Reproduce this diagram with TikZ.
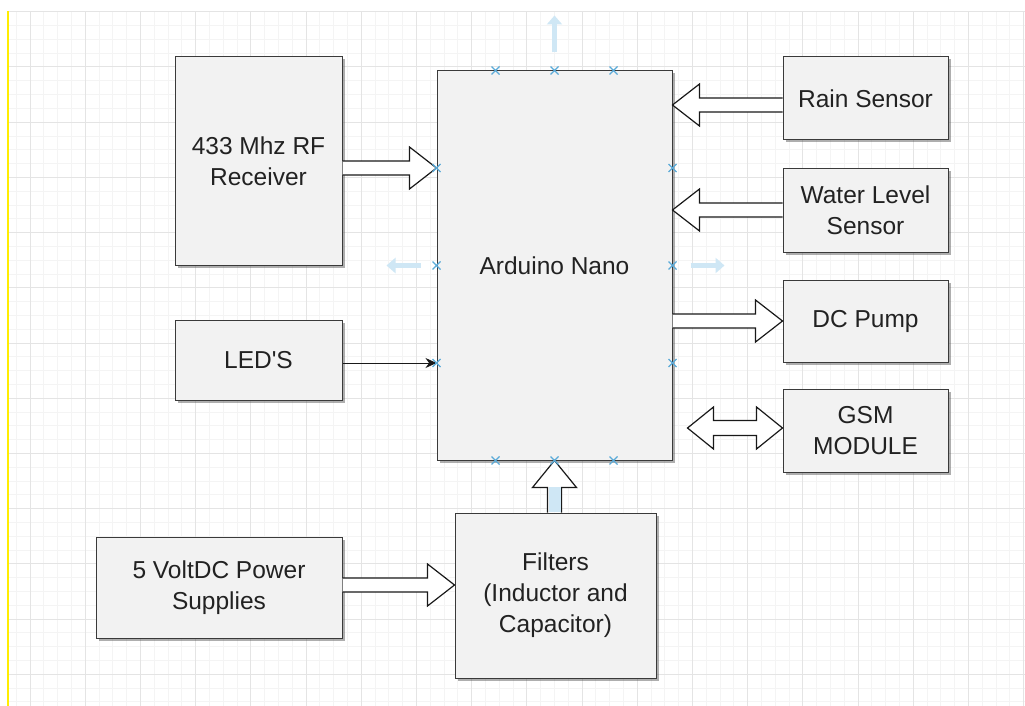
\documentclass[tikz,border=0pt]{standalone}
\usepackage{fontspec}
\setmainfont{Liberation Sans}
\usetikzlibrary{calc,arrows.meta,shadows}
\definecolor{boxfill}{HTML}{F2F2F2}
\definecolor{boxline}{HTML}{3A3A3A}
\definecolor{gridminor}{HTML}{F4F4F4}
\definecolor{gridmajor}{HTML}{E4E4E4}
\definecolor{mark}{HTML}{5AAAD8}
\definecolor{hover}{HTML}{CFE7F5}
\definecolor{txt}{HTML}{222222}
\tikzset{
  blk/.style={draw=boxline, fill=boxfill, line width=1pt, text=txt, align=center,
    inner sep=0pt, font=\fontsize{24.5}{31}\selectfont,
    drop shadow={shadow xshift=2.5pt, shadow yshift=-2.5pt, opacity=0.45, fill=black!70}},
  blockarr/.style={draw=black!90, fill=white, line width=1.2pt, line join=miter},
  thinarr/.style={draw=black!90, line width=1pt, -{Stealth[length=11pt,width=10pt]}},
  markx/.style={draw=mark, line width=1.3pt},
  hoverarr/.style={draw=hover, line width=5pt, -{Triangle[length=9pt,width=15pt]}},
}
% horizontal hollow block arrow from #1 to #2 (y taken from #1)
\newcommand\blockarrowH[2]{%
  \draw[blockarr] let \p1=(#1), \p2=(#2), \n1={sign(\x2-\x1)} in
    (\x1,\y1+7pt) -- (\x2-\n1*27pt,\y1+7pt) -- (\x2-\n1*27pt,\y1+21pt) -- (\x2,\y1)
    -- (\x2-\n1*27pt,\y1-21pt) -- (\x2-\n1*27pt,\y1-7pt) -- (\x1,\y1-7pt);}
% vertical hollow block arrow from #1 to #2 (x taken from #1)
\newcommand\blockarrowV[2]{%
  \draw[blockarr] let \p1=(#1), \p2=(#2), \n1={sign(\y2-\y1)} in
    (\x1-7pt,\y1) -- (\x1-7pt,\y2-\n1*27pt) -- (\x1-22pt,\y2-\n1*27pt) -- (\x1,\y2)
    -- (\x1+22pt,\y2-\n1*27pt) -- (\x1+7pt,\y2-\n1*27pt) -- (\x1+7pt,\y1);}
% double-headed horizontal hollow block arrow
\newcommand\blockarrowD[2]{%
  \draw[blockarr] let \p1=(#1), \p2=(#2) in
    (\x1,\y1) -- (\x1+26pt,\y1+21pt) -- (\x1+26pt,\y1+7.5pt) -- (\x2-26pt,\y1+7.5pt)
    -- (\x2-26pt,\y1+21pt) -- (\x2,\y1) -- (\x2-26pt,\y1-21pt) -- (\x2-26pt,\y1-7.5pt)
    -- (\x1+26pt,\y1-7.5pt) -- (\x1+26pt,\y1-21pt) -- cycle;}
\begin{document}
\begin{tikzpicture}[x=1pt,y=-1pt]
\useasboundingbox (0,0) rectangle (1025,706);
\fill[white] (0,0) rectangle (1025,706);
% grid
\begin{scope}
  \clip (8,11.8) rectangle (1025,706);
  \foreach \i in {0,...,74} {
    \pgfmathsetmacro\gx{2.4+13.8*\i}
    \pgfmathtruncatemacro\m{mod(\i,4)}
    \ifnum\m=2 \else \draw[gridminor, line width=0.8pt] (\gx,0) -- (\gx,706); \fi
  }
  \foreach \j in {0,...,51} {
    \pgfmathsetmacro\gy{11.8+13.8*\j}
    \pgfmathtruncatemacro\m{mod(\j,4)}
    \ifnum\m=0 \else \draw[gridminor, line width=0.8pt] (0,\gy) -- (1025,\gy); \fi
  }
  \foreach \i in {0,...,18} {
    \pgfmathsetmacro\gx{30+55.2*\i}
    \draw[gridmajor, line width=1pt] (\gx,0) -- (\gx,706);
  }
  \foreach \j in {0,...,12} {
    \pgfmathsetmacro\gy{11.8+55.2*\j}
    \draw[gridmajor, line width=1pt] (0,\gy) -- (1025,\gy);
  }
\end{scope}
\draw[yellow!95!orange, line width=1.6pt] (8,11) -- (8,706);

% blocks
\node[blk, minimum width=167pt, minimum height=208pt] (rf)    at (258.5,161)   {433 Mhz RF\\Receiver};
\node[blk, minimum width=235pt, minimum height=389pt] (ard)   at (554.5,265.5) {Arduino Nano};
\node[blk, minimum width=165pt, minimum height=83pt]  (rain)  at (865.5,98.5)  {Rain Sensor};
\node[blk, minimum width=165pt, minimum height=84pt]  (water) at (865.5,210)   {Water Level\\Sensor};
\node[blk, minimum width=165pt, minimum height=82pt]  (pump)  at (865.5,321)   {DC Pump};
\node[blk, minimum width=165pt, minimum height=83pt]  (gsm)   at (865.5,430.5) {GSM\\MODULE};
\node[blk, minimum width=167pt, minimum height=80pt]  (led)   at (258.5,360)   {LED\textquotesingle S};
\node[blk, minimum width=246pt, minimum height=101pt] (psu)   at (219,587.5)   {5 VoltDC Power\\Supplies};
\node[blk, minimum width=201pt, minimum height=165pt] (filt)  at (555.5,595.5) {Filters\\(Inductor and\\Capacitor)};

% connection points of Arduino Nano
\coordinate (al1) at ($(ard.north west)!0.25!(ard.south west)$);
\coordinate (al2) at (ard.west);
\coordinate (al3) at ($(ard.north west)!0.75!(ard.south west)$);
\coordinate (ar1) at ($(ard.north east)!0.25!(ard.south east)$);
\coordinate (ar2) at (ard.east);
\coordinate (ar3) at ($(ard.north east)!0.75!(ard.south east)$);
\coordinate (at1) at ($(ard.north west)!0.25!(ard.north east)$);
\coordinate (at2) at (ard.north);
\coordinate (at3) at ($(ard.north west)!0.75!(ard.north east)$);
\coordinate (ab1) at ($(ard.south west)!0.25!(ard.south east)$);
\coordinate (ab2) at (ard.south);
\coordinate (ab3) at ($(ard.south west)!0.75!(ard.south east)$);

% connectors
\blockarrowH{rf.east |- al1}{al1}
\blockarrowH{rain.west |- 0,105}{ard.east |- 0,105}
\blockarrowH{water.west}{ard.east |- water.west}
\blockarrowH{ard.east |- pump.west}{pump.west}
\coordinate (gsmfree) at ($(ard.east |- gsm.west)+(15,-2.5)$);
\blockarrowD{gsmfree}{gsm.west |- gsmfree}
\draw[thinarr] (led.east |- al3) -- (al3);
\blockarrowH{psu.east |- 0,585}{filt.west |- 0,585}
\blockarrowV{filt.north -| ab2}{ab2}
\fill[hover] ($(filt.north -| ab2)+(-6,-0.8)$) rectangle ($(filt.north -| ab2)+(6,-26)$);

% hover arrows
\draw[hoverarr] ($(at2)+(0,-18)$) -- ($(at2)+(0,-55)$);
\draw[hoverarr] ($(al2)+(-16,0)$) -- ($(al2)+(-50,0)$);
\draw[hoverarr] ($(ar2)+(18,0)$) -- ($(ar2)+(52,0)$);

% connection point markers
\foreach \c in {al1,al2,al3,ar1,ar2,ar3,at1,at2,at3,ab1,ab2,ab3}
  \draw[markx] (\c) +(-4,-4) -- +(4,4) +(-4,4) -- +(4,-4);
\end{tikzpicture}
\end{document}
